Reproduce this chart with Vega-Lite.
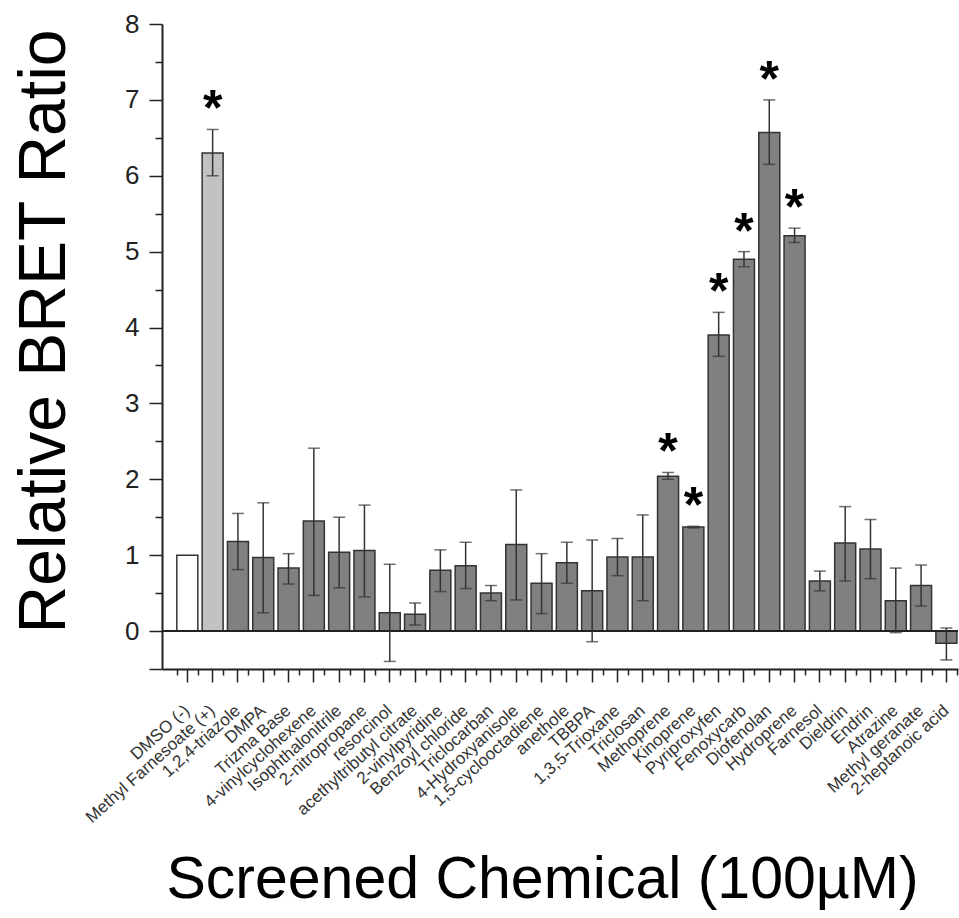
{
  "$schema": "https://vega.github.io/schema/vega-lite/v6.json",
  "width": 796,
  "height": 645,
  "autosize": {"type": "none"},
  "padding": {"left": 162, "top": 24, "right": 1, "bottom": 249},
  "background": "white",
  "config": {
    "view": {"stroke": null},
    "font": "Liberation Sans",
    "axis": {"grid": false, "domainColor": "#222", "tickColor": "#222"}
  },
  "data": {
    "values": [
      {"chemical": "DMSO (-)", "group": "negative", "ratio": 1.0},
      {"chemical": "Methyl Farnesoate (+)", "group": "positive", "ratio": 6.30, "lo": 6.00, "hi": 6.61, "star": "*"},
      {"chemical": "1,2,4-triazole", "group": "test", "ratio": 1.18, "lo": 0.81, "hi": 1.55},
      {"chemical": "DMPA", "group": "test", "ratio": 0.97, "lo": 0.24, "hi": 1.69},
      {"chemical": "Trizma Base", "group": "test", "ratio": 0.83, "lo": 0.62, "hi": 1.02},
      {"chemical": "4-vinylcyclohexene", "group": "test", "ratio": 1.45, "lo": 0.47, "hi": 2.41},
      {"chemical": "Isophthalonitrile", "group": "test", "ratio": 1.04, "lo": 0.57, "hi": 1.50},
      {"chemical": "2-nitropropane", "group": "test", "ratio": 1.06, "lo": 0.45, "hi": 1.66},
      {"chemical": "resorcinol", "group": "test", "ratio": 0.24, "lo": -0.40, "hi": 0.88},
      {"chemical": "acethyltributyl citrate", "group": "test", "ratio": 0.22, "lo": 0.08, "hi": 0.37},
      {"chemical": "2-vinylpyridine", "group": "test", "ratio": 0.80, "lo": 0.52, "hi": 1.07},
      {"chemical": "Benzoyl chloride", "group": "test", "ratio": 0.86, "lo": 0.56, "hi": 1.17},
      {"chemical": "Triclocarban", "group": "test", "ratio": 0.50, "lo": 0.40, "hi": 0.60},
      {"chemical": "4-Hydroxyanisole", "group": "test", "ratio": 1.14, "lo": 0.41, "hi": 1.86},
      {"chemical": "1,5-cyclooctadiene", "group": "test", "ratio": 0.63, "lo": 0.23, "hi": 1.02},
      {"chemical": "anethole", "group": "test", "ratio": 0.90, "lo": 0.63, "hi": 1.17},
      {"chemical": "TBBPA", "group": "test", "ratio": 0.53, "lo": -0.14, "hi": 1.20},
      {"chemical": "1,3,5-Trioxane", "group": "test", "ratio": 0.975, "lo": 0.73, "hi": 1.22},
      {"chemical": "Triclosan", "group": "test", "ratio": 0.975, "lo": 0.40, "hi": 1.53},
      {"chemical": "Methoprene", "group": "test", "ratio": 2.04, "lo": 2.00, "hi": 2.09, "star": "*"},
      {"chemical": "Kinoprene", "group": "test", "ratio": 1.37, "lo": 1.36, "hi": 1.38, "star": "*"},
      {"chemical": "Pyriproxyfen", "group": "test", "ratio": 3.90, "lo": 3.62, "hi": 4.20, "star": "*"},
      {"chemical": "Fenoxycarb", "group": "test", "ratio": 4.90, "lo": 4.80, "hi": 5.00, "star": "*"},
      {"chemical": "Diofenolan", "group": "test", "ratio": 6.57, "lo": 6.15, "hi": 7.00, "star": "*"},
      {"chemical": "Hydroprene", "group": "test", "ratio": 5.21, "lo": 5.12, "hi": 5.31, "star": "*"},
      {"chemical": "Farnesol", "group": "test", "ratio": 0.66, "lo": 0.53, "hi": 0.79},
      {"chemical": "Dieldrin", "group": "test", "ratio": 1.16, "lo": 0.66, "hi": 1.64},
      {"chemical": "Endrin", "group": "test", "ratio": 1.08, "lo": 0.69, "hi": 1.47},
      {"chemical": "Atrazine", "group": "test", "ratio": 0.40, "lo": -0.02, "hi": 0.83},
      {"chemical": "Methyl geranate", "group": "test", "ratio": 0.60, "lo": 0.33, "hi": 0.87},
      {"chemical": "2-heptanoic acid", "group": "test", "ratio": -0.16, "lo": -0.38, "hi": 0.04}
    ]
  },
  "layer": [
    {
      "mark": {"type": "bar", "stroke": "#333", "strokeWidth": 1.5},
      "encoding": {
        "x": {
          "field": "chemical", "type": "nominal", "sort": null,
          "scale": {"paddingInner": 0.17, "paddingOuter": 0.315, "align": 0.93},
          "axis": {
            "orient": "bottom",
            "title": "Screened Chemical (100µM)",
            "titleFontSize": 59, "titleFontWeight": "normal", "titleColor": "black",
            "titleX": 380, "titleY": 228, "titleAlign": "center", "titleBaseline": "alphabetic",
            "labelAngle": -42, "labelAlign": "right", "labelBaseline": "middle",
            "labelFontSize": 17, "labelPadding": 26, "labelColor": "#333",
            "labelOverlap": false, "labelLimit": 400,
            "tickSize": 13, "tickWidth": 1.5, "domainWidth": 2
          }
        },
        "y": {
          "field": "ratio", "type": "quantitative",
          "scale": {"domain": [-0.5, 8], "nice": false, "zero": false},
          "axis": {
            "orient": "left",
            "title": "Relative BRET Ratio",
            "titleFontSize": 66, "titleFontWeight": "normal", "titleColor": "black",
            "titleAngle": 270, "titleX": -118, "titleY": 307, "titleAlign": "center", "titleBaseline": "middle",
            "values": [-0.5, 0, 1, 2, 3, 4, 5, 6, 7, 8],
            "labelExpr": "datum.value < 0 ? '' : datum.label",
            "labelFontSize": 26, "labelColor": "#222", "labelPadding": 10,
            "tickSize": 13, "tickWidth": 1.5, "domainWidth": 2
          }
        },
        "color": {
          "field": "group", "type": "nominal",
          "scale": {"domain": ["negative", "positive", "test"], "range": ["#ffffff", "#c2c2c2", "#808080"]},
          "legend": null
        }
      }
    },
    {
      "mark": {"type": "rule", "color": "#222", "strokeWidth": 2},
      "encoding": {"y": {"datum": 0, "type": "quantitative", "axis": null}}
    },
    {
      "mark": {"type": "rule", "color": "#333", "strokeWidth": 1.5},
      "encoding": {
        "x": {
          "field": "chemical", "type": "nominal", "sort": null,
          "axis": {"orient": "bottom", "title": null, "labels": false, "domain": false, "tickBand": "extent", "tickSize": 6, "tickWidth": 1.5}
        },
        "y": {
          "field": "lo", "type": "quantitative",
          "axis": {"orient": "left", "title": null, "labels": false, "domain": false, "values": [0.5, 1.5, 2.5, 3.5, 4.5, 5.5, 6.5, 7.5], "tickSize": 7, "tickWidth": 1.5}
        },
        "y2": {"field": "hi"}
      }
    },
    {
      "mark": {"type": "tick", "color": "#333", "size": 12, "thickness": 1.5, "orient": "horizontal"},
      "encoding": {
        "x": {"field": "chemical", "type": "nominal", "sort": null, "axis": null},
        "y": {"field": "lo", "type": "quantitative", "axis": null}
      }
    },
    {
      "mark": {"type": "tick", "color": "#333", "size": 12, "thickness": 1.5, "orient": "horizontal"},
      "encoding": {
        "x": {"field": "chemical", "type": "nominal", "sort": null, "axis": null},
        "y": {"field": "hi", "type": "quantitative", "axis": null}
      }
    },
    {
      "transform": [{"filter": "datum.star == '*'"}],
      "mark": {"type": "text", "fontSize": 50, "fontWeight": "bold", "baseline": "alphabetic", "align": "center", "dy": -4, "color": "black"},
      "encoding": {
        "x": {"field": "chemical", "type": "nominal", "sort": null, "axis": null},
        "y": {"field": "hi", "type": "quantitative", "axis": null},
        "text": {"field": "star"}
      }
    }
  ],
  "resolve": {"axis": {"x": "independent", "y": "independent"}}
}
